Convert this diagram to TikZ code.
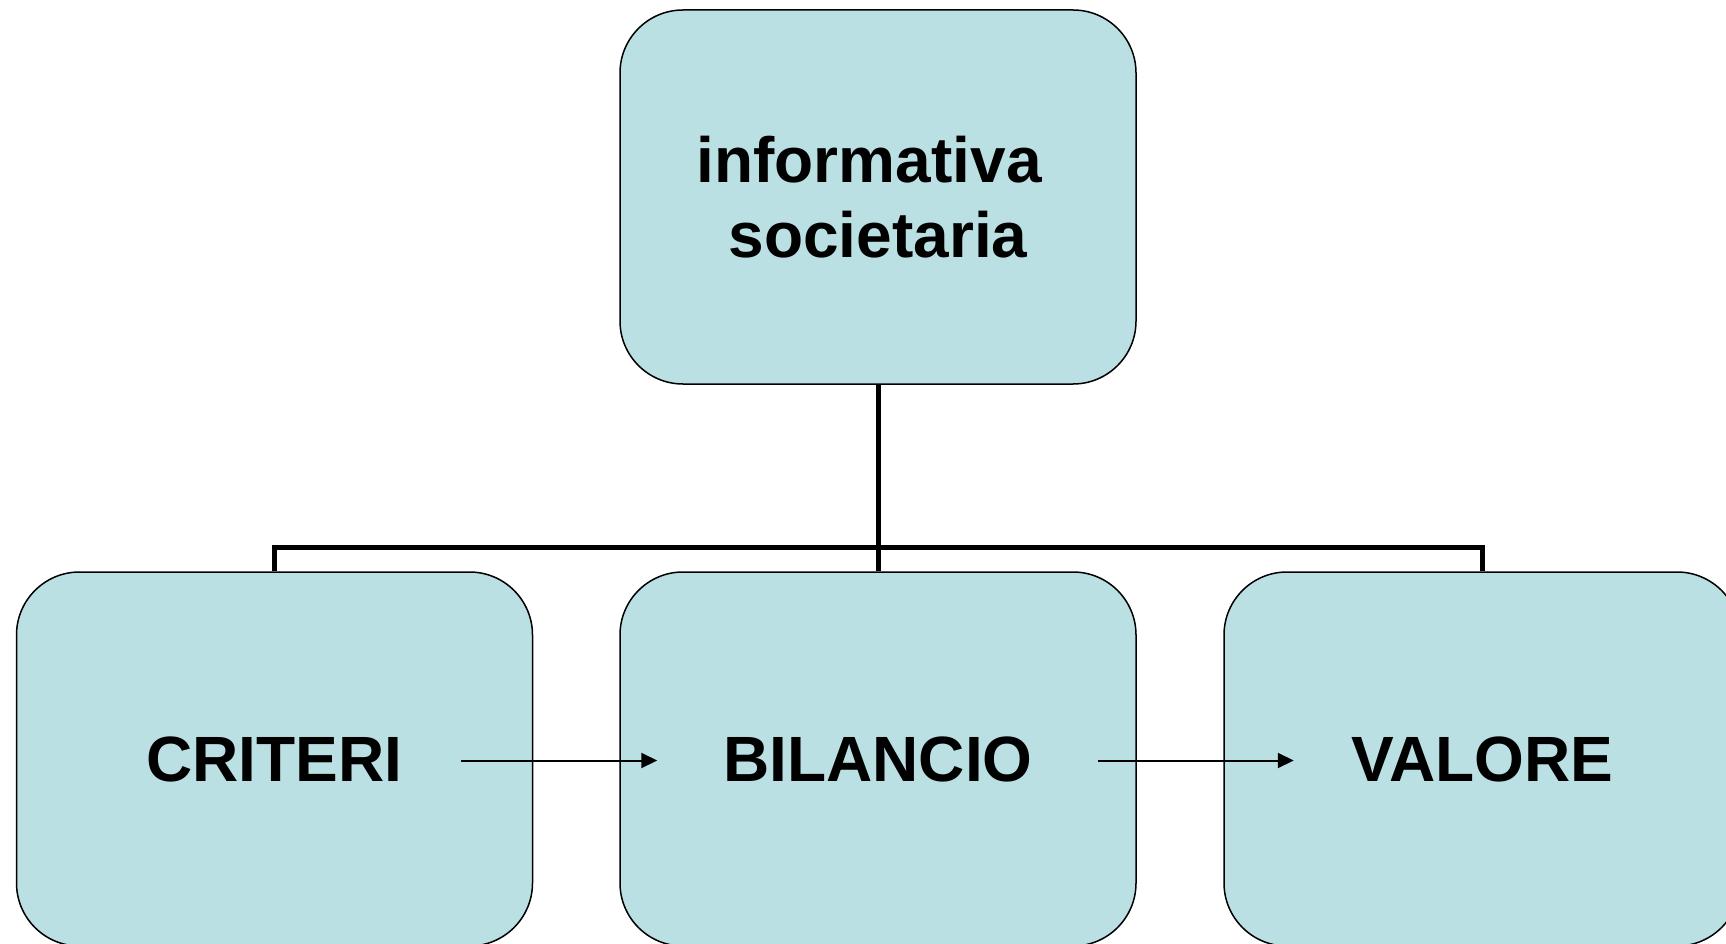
\documentclass[tikz,border=0pt]{standalone}
\usepackage{fontspec}
\setmainfont{Liberation Sans}
\usetikzlibrary{arrows.meta,calc}
\definecolor{boxfill}{RGB}{187,224,227}
\begin{document}
\begin{tikzpicture}[x=1pt,y=-1pt,
  box/.style={draw=black,line width=1.5pt,fill=boxfill,rounded corners=63pt,
    minimum width=516pt,minimum height=374pt,inner sep=0pt,align=center,
    font=\fontsize{64}{75}\selectfont\bfseries},
  conn/.style={line width=5pt,line join=miter},
  flow/.style={line width=2pt,-{Triangle[length=16pt,width=15pt]}}]
\useasboundingbox (0,0) rectangle (1726,944);
\clip (0,0) rectangle (1726,944);
\node[box] (top) at (878,197) {informativa\hspace*{0.278em}\\societaria};
\node[box] (crit) at (274.5,759) {CRITERI};
\node[box] (bil) at (878,759) {BILANCIO};
\node[box] (val) at (1482,759) {VALORE};
\coordinate (j) at (878,547);
\draw[conn] (top.south) -- (j);
\draw[conn] (crit.north) |- (j);
\draw[conn] (val.north) |- (j);
\draw[conn] (bil.north) -- (j);
\draw[flow] ($(crit.east)+(-72,1.5)$) -- ($(bil.west)+(38,1.5)$);
\draw[flow] ($(bil.east)+(-38.5,1.5)$) -- ($(val.west)+(70.5,1.5)$);
\end{tikzpicture}
\end{document}
